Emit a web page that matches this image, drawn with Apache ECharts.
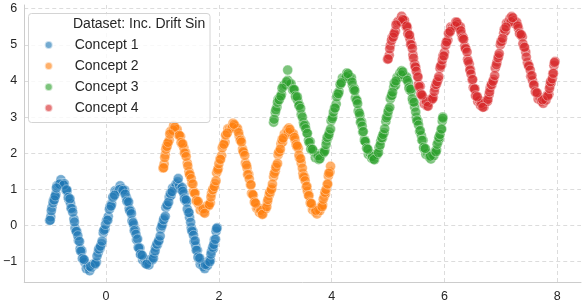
<!DOCTYPE html>
<html>
<head>
<meta charset="utf-8">
<script src="https://cdn.jsdelivr.net/npm/echarts@6/dist/echarts.min.js"></script>
<style>
	html, body { margin: 0; padding: 0; background: #fff; }
	#main { width: 588px; height: 304px; }
</style>
</head>
<body>
<div id="main"></div>
<script>
var legendTitle = 'Dataset: Inc. Drift Sin';
var concepts = ['Concept 1', 'Concept 2', 'Concept 3', 'Concept 4'];
var colors = ['#1f77b4', '#ff7f0e', '#2ca02c', '#d62728'];

// concept 1
var c1x = [-1.00,-0.98,-0.96,-0.93,-0.91,-0.89,-0.87,-0.84,-0.82,-0.80,
	-0.77,-0.74,-0.71,-0.69,-0.66,-0.63,-0.60,-0.57,-0.55,-0.52,-0.49,-0.46,-0.43,-0.40,-0.38,-0.35,-0.32,-0.29,
	-0.26,-0.23,-0.20,-0.17,-0.14,-0.11,-0.08,-0.05,-0.02,0.01,0.04,0.07,0.10,0.13,0.16,0.19,0.22,0.25,
	0.28,0.30,0.33,0.36,0.38,0.41,0.44,0.46,0.49,0.52,0.54,0.57,0.60,0.62,0.65,0.68,0.70,0.73,
	0.76,0.79,0.82,0.85,0.88,0.91,0.94,0.97,1.00,1.03,1.06,1.09,1.12,1.15,1.18,1.21,1.24,1.27,
	1.30,1.32,1.35,1.38,1.40,1.43,1.46,1.48,1.51,1.54,1.56,1.59,1.62,1.64,1.67,1.70,1.72,1.75,
	1.77,1.80,1.82,1.85,1.87,1.90,1.92,1.95,1.97,
	1.28,-0.82,-0.28,0.24,0.72,1.76,-0.75,0.30];
var c1y = [0.14,0.24,0.50,0.71,0.78,0.87,1.10,1.13,1.14,1.27,
	1.16,1.16,0.98,0.96,0.72,0.62,0.47,0.18,-0.07,-0.16,-0.41,-0.64,-0.70,-0.94,-1.01,-1.19,-1.14,-1.25,
	-1.16,-1.07,-1.08,-1.01,-0.75,-0.64,-0.50,-0.20,-0.10,0.15,0.25,0.53,0.60,0.81,0.96,0.95,0.96,1.10,
	1.03,0.95,0.98,0.78,0.70,0.47,0.40,0.13,0.02,-0.12,-0.39,-0.60,-0.62,-0.80,-0.95,-0.92,-1.05,-1.02,
	-1.09,-0.94,-0.95,-0.77,-0.60,-0.53,-0.40,-0.09,0.05,0.20,0.50,0.58,0.79,0.83,1.04,1.03,1.15,1.21,
	1.10,1.01,1.05,0.88,0.70,0.65,0.37,0.23,-0.06,-0.16,-0.44,-0.56,-0.68,-0.91,-1.07,-1.03,-1.13,-1.19,
	-1.06,-1.10,-0.97,-0.95,-0.71,-0.64,-0.39,-0.16,-0.06,
	1.30,1.15,-1.13,1.00,-1.07,-1.08,1.12,0.98];
var c1xb = [-0.99,-0.97,-0.94,-0.92,-0.90,-0.88,
	-0.70,-0.67,-0.64,-0.62,-0.59,-0.56,-0.53,-0.50,-0.47,-0.45,-0.42,-0.39,
	-0.19,-0.16,-0.13,-0.10,-0.07,-0.04,-0.01,0.03,0.06,0.09,0.12,0.15,
	0.34,0.37,0.40,0.42,0.45,0.48,0.50,0.53,0.56,0.58,0.61,0.64,
	0.84,0.87,0.90,0.93,0.96,0.99,1.02,1.05,1.08,1.11,1.14,1.17,
	1.36,1.39,1.42,1.44,1.47,1.50,1.52,1.55,1.58,1.60,1.63,1.66,
	1.84,1.86,1.89,1.91,1.94,1.96];
var c1yb = [0.15,0.41,0.63,0.71,0.82,1.04,
	0.99,0.78,0.74,0.48,0.37,0.10,-0.16,-0.28,-0.44,-0.71,-0.91,-0.94,
	-1.05,-0.84,-0.65,-0.57,-0.43,-0.13,0.03,0.15,0.45,0.54,0.78,0.84,
	0.87,0.67,0.65,0.41,0.33,0.08,-0.14,-0.24,-0.37,-0.62,-0.80,-0.82,
	-0.90,-0.70,-0.51,-0.43,-0.29,-0.01,0.16,0.26,0.56,0.65,0.89,0.94,
	0.95,0.74,0.71,0.46,0.36,0.09,-0.15,-0.27,-0.42,-0.68,-0.87,-0.90,
	-1.00,-0.79,-0.60,-0.52,-0.38,-0.08];

// concept 2
var c2x = [1.01,1.03,1.05,1.07,1.09,1.12,1.14,1.16,1.18,1.20,
	1.23,1.26,1.29,1.32,1.35,1.38,1.41,1.44,1.47,1.49,1.52,1.55,1.58,1.61,1.64,1.67,1.70,1.73,
	1.76,1.79,1.82,1.85,1.87,1.90,1.93,1.96,1.99,2.02,2.05,2.08,2.11,2.13,2.16,2.19,2.22,2.25,
	2.28,2.31,2.33,2.36,2.39,2.42,2.44,2.47,2.50,2.53,2.56,2.58,2.61,2.64,2.67,2.69,2.72,2.75,
	2.78,2.80,2.83,2.86,2.89,2.91,2.94,2.97,3.00,3.02,3.05,3.08,3.10,3.13,3.16,3.19,3.21,3.24,
	3.27,3.30,3.32,3.35,3.38,3.41,3.43,3.46,3.49,3.52,3.55,3.57,3.60,3.63,3.66,3.68,3.71,3.74,
	3.77,3.79,3.82,3.84,3.87,3.89,3.92,3.94,3.97,3.98,
	1.19,1.22,1.72,1.75,2.24,2.27,2.74,2.77,3.23,3.26,3.72];
var c2y = [1.59,1.70,1.96,2.19,2.26,2.36,2.60,2.63,2.64,2.77,
	2.66,2.66,2.49,2.47,2.24,2.15,2.01,1.73,1.49,1.41,1.17,0.95,0.90,0.67,0.60,0.43,0.48,0.37,
	0.46,0.55,0.55,0.63,0.89,1.01,1.16,1.46,1.58,1.84,1.94,2.23,2.31,2.52,2.68,2.68,2.69,2.83,
	2.76,2.67,2.69,2.48,2.38,2.12,2.02,1.73,1.59,1.42,1.13,0.89,0.84,0.64,0.48,0.50,0.36,0.39,
	0.32,0.47,0.46,0.65,0.83,0.90,1.04,1.35,1.50,1.66,1.96,2.05,2.26,2.31,2.53,2.52,2.64,2.70,
	2.59,2.50,2.54,2.37,2.19,2.14,1.87,1.73,1.44,1.34,1.06,0.95,0.83,0.60,0.44,0.48,0.38,0.32,
	0.45,0.41,0.54,0.57,0.81,0.88,1.14,1.37,1.48,1.64,
	2.64,2.72,0.46,0.34,2.72,2.80,0.42,0.31,2.58,2.66,0.42];
var c2xb = [1.02,1.04,1.06,1.08,1.10,1.13,
	1.30,1.33,1.36,1.39,1.42,1.45,1.48,1.51,1.54,1.57,1.60,1.63,
	1.83,1.86,1.89,1.92,1.95,1.98,2.00,2.03,2.06,2.09,2.12,2.15,
	2.35,2.38,2.40,2.43,2.46,2.49,2.51,2.54,2.57,2.60,2.63,2.65,
	2.85,2.87,2.90,2.93,2.95,2.98,3.01,3.04,3.06,3.09,3.12,3.14,
	3.34,3.37,3.39,3.42,3.45,3.48,3.50,3.53,3.56,3.59,3.62,3.64,
	3.83,3.85,3.88,3.90,3.93,3.95];
var c2yb = [1.60,1.88,2.11,2.19,2.30,2.53,
	2.50,2.30,2.26,2.01,1.91,1.65,1.41,1.30,1.15,0.89,0.69,0.67,
	0.58,0.79,0.99,1.08,1.24,1.54,1.71,1.83,2.15,2.25,2.50,2.56,
	2.57,2.36,2.31,2.05,1.94,1.67,1.41,1.29,1.13,0.86,0.65,0.62,
	0.52,0.72,0.92,1.00,1.15,1.44,1.61,1.72,2.03,2.12,2.37,2.42,
	2.44,2.24,2.20,1.95,1.85,1.59,1.35,1.24,1.09,0.83,0.63,0.61,
	0.52,0.73,0.92,1.00,1.15,1.45];

// concept 3
var c3x = [2.97,3.00,3.03,3.05,3.08,3.11,3.14,3.16,3.19,3.22,
	3.25,3.28,3.31,3.34,3.37,3.40,3.43,3.46,3.50,3.53,3.56,3.59,3.62,3.65,3.68,3.71,3.74,3.77,
	3.80,3.83,3.85,3.88,3.91,3.94,3.96,3.99,4.02,4.05,4.08,4.10,4.13,4.16,4.19,4.22,4.24,4.27,
	4.30,4.32,4.35,4.37,4.40,4.42,4.45,4.47,4.50,4.53,4.55,4.58,4.60,4.63,4.65,4.68,4.71,4.73,
	4.76,4.79,4.81,4.84,4.87,4.90,4.93,4.96,4.99,5.01,5.04,5.07,5.10,5.13,5.16,5.19,5.21,5.24,
	5.27,5.30,5.33,5.36,5.38,5.41,5.44,5.47,5.50,5.53,5.56,5.59,5.62,5.64,5.67,5.70,5.73,5.76,
	5.79,5.81,5.84,5.86,5.89,5.91,5.94,5.96,5.97,
	3.22,3.20,3.76,3.79,4.26,4.29,4.72,4.75,5.23,5.26,5.75];
var c3y = [2.86,3.13,3.28,3.49,3.54,3.63,3.86,3.89,3.89,4.02,
	3.91,3.92,3.75,3.75,3.53,3.45,3.33,3.07,2.85,2.78,2.56,2.36,2.32,2.10,2.05,1.88,1.94,1.83,
	1.92,2.01,2.00,2.08,2.34,2.45,2.59,2.90,3.01,3.25,3.36,3.64,3.71,3.92,4.08,4.07,4.08,4.22,
	4.15,4.06,4.09,3.88,3.79,3.53,3.45,3.17,3.04,2.87,2.59,2.37,2.32,2.13,1.97,2.00,1.86,1.89,
	1.82,1.97,1.97,2.16,2.34,2.42,2.57,2.88,3.04,3.21,3.51,3.61,3.83,3.88,4.10,4.10,4.22,4.28,
	4.17,4.08,4.11,3.95,3.76,3.71,3.43,3.28,2.99,2.89,2.60,2.49,2.36,2.12,1.97,2.00,1.90,1.84,
	1.97,1.93,2.06,2.09,2.33,2.41,2.66,2.89,3.00,
	4.30,3.98,1.93,1.85,4.12,4.20,1.91,1.83,4.17,4.25,1.92];
var c3xb = [2.98,3.01,3.04,3.07,3.10,3.12,
	3.33,3.36,3.39,3.42,3.45,3.48,3.51,3.54,3.57,3.60,3.63,3.66,
	3.87,3.90,3.92,3.95,3.98,4.01,4.03,4.06,4.09,4.12,4.15,4.17,
	4.36,4.39,4.41,4.44,4.46,4.49,4.51,4.54,4.56,4.59,4.62,4.64,
	4.83,4.86,4.89,4.91,4.94,4.97,5.00,5.03,5.06,5.08,5.11,5.14,
	5.34,5.37,5.40,5.43,5.46,5.49,5.51,5.54,5.57,5.60,5.63,5.66,
	5.85,5.87,5.90,5.92,5.95,5.97];
var c3yb = [2.94,3.20,3.41,3.48,3.58,3.80,
	3.77,3.58,3.56,3.32,3.24,3.00,2.77,2.68,2.55,2.30,2.12,2.11,
	2.04,2.24,2.44,2.52,2.67,2.96,3.14,3.25,3.56,3.65,3.90,3.95,
	3.97,3.76,3.73,3.47,3.37,3.11,2.86,2.75,2.60,2.33,2.14,2.11,
	2.02,2.23,2.43,2.52,2.68,2.98,3.15,3.27,3.59,3.69,3.94,4.00,
	4.02,3.81,3.77,3.51,3.41,3.14,2.90,2.78,2.63,2.36,2.16,2.13,
	2.04,2.25,2.44,2.52,2.67,2.97];

// concept 4
var c4x = [4.99,5.02,5.04,5.07,5.10,5.13,5.16,5.18,5.21,5.24,
	5.27,5.29,5.32,5.34,5.37,5.39,5.42,5.44,5.47,5.49,5.52,5.54,5.57,5.59,5.62,5.64,5.67,5.69,
	5.72,5.75,5.77,5.80,5.83,5.86,5.89,5.92,5.95,5.97,6.00,6.03,6.06,6.09,6.11,6.14,6.17,6.20,
	6.23,6.25,6.28,6.30,6.33,6.36,6.38,6.41,6.44,6.46,6.49,6.51,6.54,6.57,6.59,6.62,6.64,6.67,
	6.70,6.73,6.76,6.79,6.81,6.84,6.87,6.90,6.93,6.96,6.99,7.02,7.05,7.08,7.10,7.13,7.16,7.19,
	7.22,7.25,7.28,7.31,7.35,7.38,7.41,7.44,7.47,7.50,7.53,7.56,7.59,7.63,7.66,7.69,7.72,7.75,
	7.77,7.80,7.82,7.85,7.87,7.89,7.92,7.94,7.96,
	5.23,5.26,5.68,5.71,6.19,6.22,6.65,6.68,7.18,7.21,7.74];
var c4y = [4.60,4.71,4.98,5.20,5.27,5.38,5.61,5.65,5.66,5.79,
	5.68,5.68,5.50,5.48,5.25,5.15,5.00,4.72,4.47,4.38,4.14,3.91,3.85,3.62,3.55,3.37,3.42,3.31,
	3.40,3.49,3.48,3.55,3.81,3.92,4.05,4.35,4.45,4.69,4.79,5.07,5.13,5.34,5.49,5.48,5.49,5.63,
	5.56,5.47,5.50,5.30,5.21,4.96,4.88,4.60,4.47,4.31,4.03,3.82,3.78,3.58,3.43,3.46,3.32,3.35,
	3.28,3.43,3.43,3.62,3.81,3.89,4.04,4.36,4.52,4.69,5.00,5.10,5.32,5.38,5.60,5.60,5.72,5.78,
	5.67,5.58,5.62,5.45,5.27,5.22,4.94,4.80,4.51,4.41,4.13,4.01,3.89,3.66,3.50,3.54,3.44,3.38,
	3.51,3.47,3.60,3.63,3.87,3.95,4.20,4.43,4.54,
	5.64,5.70,3.43,3.30,5.52,5.62,3.38,3.27,5.64,5.75,3.48];
var c4xb = [5.00,5.03,5.06,5.09,5.11,5.14,
	5.33,5.35,5.38,5.40,5.43,5.45,5.48,5.50,5.53,5.55,5.58,5.60,
	5.79,5.82,5.85,5.87,5.90,5.93,5.96,5.99,6.02,6.04,6.07,6.10,
	6.29,6.32,6.34,6.37,6.40,6.42,6.45,6.47,6.50,6.53,6.55,6.58,
	6.77,6.80,6.83,6.86,6.89,6.92,6.95,6.97,7.00,7.03,7.06,7.09,
	7.30,7.33,7.36,7.39,7.42,7.45,7.49,7.52,7.55,7.58,7.61,7.64,
	7.83,7.86,7.88,7.91,7.93,7.95];
var c4yb = [4.61,4.89,5.12,5.21,5.32,5.55,
	5.52,5.31,5.27,5.01,4.90,4.63,4.39,4.27,4.11,3.84,3.64,3.61,
	3.51,3.71,3.90,3.98,4.12,4.41,4.58,4.69,4.99,5.08,5.32,5.37,
	5.39,5.18,5.15,4.90,4.80,4.54,4.30,4.19,4.04,3.78,3.59,3.56,
	3.49,3.70,3.90,3.99,4.15,4.45,4.64,4.76,5.08,5.18,5.43,5.49,
	5.52,5.31,5.28,5.03,4.93,4.66,4.42,4.30,4.15,3.89,3.70,3.67,
	3.58,3.79,3.98,4.06,4.21,4.51];

var allX = [c1x.concat(c1xb), c2x.concat(c2xb), c3x.concat(c3xb), c4x.concat(c4xb)];
var allY = [c1y.concat(c1yb), c2y.concat(c2yb), c3y.concat(c3yb), c4y.concat(c4yb)];

var font = '"Liberation Sans", Arial, sans-serif';

function pairs(xs, ys) {
	var out = [];
	for (var i = 0; i < xs.length; i++) {
		out.push([xs[i], ys[i]]);
	}
	return out;
}

function tickFmt(v) {
	// only whole numbers get a label, matplotlib style minus
	if (Math.abs(v - Math.round(v)) > 1e-6) return '';
	return String(Math.round(v)).replace('-', '\u2212');
}

var series = [];
for (var i = 0; i < concepts.length; i++) {
	series.push({
		name: concepts[i],
		type: 'scatter',
		symbolSize: 10,
		data: pairs(allX[i], allY[i]),
		itemStyle: {
			color: colors[i],
			opacity: 0.62,
			borderColor: '#ffffff',
			borderWidth: 0.6
		}
	});
}

var gridLine = { show: true, showMinLine: false, showMaxLine: false, lineStyle: { color: '#dcdcdc', width: 1, type: [4, 3] } };

var myChart = echarts.init(document.getElementById('main'));
var option = {
	animation: false,
	backgroundColor: '#ffffff',
	grid: { left: 21, right: 7, top: 5, bottom: 22 },
	xAxis: {
		type: 'value',
		min: -1.45,
		max: 8.42,
		splitNumber: 5,
		axisLine: { show: true, onZero: false, lineStyle: { color: '#cccccc', width: 1 } },
		axisTick: { show: false },
		axisLabel: { color: '#262626', fontSize: 12.5, fontFamily: font, margin: 8, formatter: tickFmt },
		splitLine: gridLine
	},
	yAxis: {
		type: 'value',
		min: -1.56,
		max: 6.1,
		splitNumber: 8,
		axisLine: { show: true, onZero: false, lineStyle: { color: '#cccccc', width: 1 } },
		axisTick: { show: false },
		axisLabel: { color: '#262626', fontSize: 12.5, fontFamily: font, margin: 7, formatter: tickFmt },
		splitLine: gridLine
	},
	legend: {
		data: concepts,
		orient: 'vertical',
		left: 43.7,
		top: 37,
		padding: 0,
		icon: 'circle',
		itemWidth: 8,
		itemHeight: 8,
		itemGap: 5,
		z: 12,
		textStyle: { color: '#262626', fontSize: 14, fontFamily: font, lineHeight: 16, padding: [0, 0, 0, 17] }
	},
	graphic: [
		{
			type: 'rect',
			z: 10,
			shape: { x: 28.5, y: 13.5, width: 181.5, height: 109, r: 3 },
			style: { fill: 'rgba(255,255,255,0.8)', stroke: '#d4d4d4', lineWidth: 1 }
		},
		{
			type: 'text',
			z: 11,
			x: 73,
			y: 24,
			style: { text: legendTitle, fill: '#262626', font: '14px ' + font, verticalAlign: 'middle' }
		}
	],
	series: series
};
myChart.setOption(option);
</script>
</body>
</html>
